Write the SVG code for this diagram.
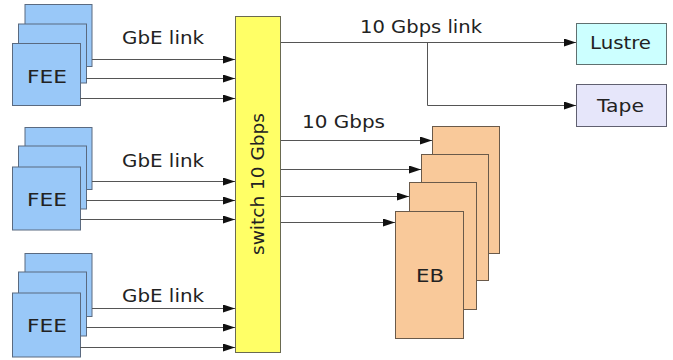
<svg xmlns="http://www.w3.org/2000/svg" width="673" height="360" viewBox="0 0 673 360">
  <style>
    text { font-family: "DejaVu Sans", "Liberation Sans", sans-serif; font-size: 18px; fill: #222; }
    .fee { fill: #99c8f8; stroke: #5a6a80; stroke-width: 1; }
    .eb { fill: #f9c99a; stroke: #6a5a4a; stroke-width: 1; }
    .sw { fill: #ffff66; stroke: #6a6a50; stroke-width: 1; }
    .lustre { fill: #ccffff; stroke: #607070; stroke-width: 1; }
    .tape { fill: #e6e6fa; stroke: #606070; stroke-width: 1; }
    .link { fill: none; stroke: #555; stroke-width: 1; }
    .arr { marker-end: url(#head); }
  </style>
  <defs>
    <marker id="head" markerUnits="userSpaceOnUse" markerWidth="13" markerHeight="9" refX="12" refY="4" orient="auto">
      <path d="M0,0 L12,4 L0,8 Z" fill="#111"/>
    </marker>
  </defs>
  <rect width="673" height="360" fill="#fff"/>

  <!-- front-end electronics, three stacks -->
  <g id="fee1">
    <rect class="fee" x="25" y="4.5" width="67" height="62"/>
    <rect class="fee" x="18.5" y="24" width="68" height="59"/>
    <rect class="fee" x="12.5" y="43.5" width="68" height="62"/>
    <text x="27" y="83" textLength="40" lengthAdjust="spacingAndGlyphs">FEE</text>
  </g>
  <g id="fee2">
    <rect class="fee" x="25" y="127.5" width="67" height="62"/>
    <rect class="fee" x="18.5" y="146" width="68" height="63"/>
    <rect class="fee" x="12.5" y="167" width="68" height="63"/>
    <text x="27" y="206" textLength="40" lengthAdjust="spacingAndGlyphs">FEE</text>
  </g>
  <g id="fee3">
    <rect class="fee" x="25" y="253.5" width="67" height="63"/>
    <rect class="fee" x="18.5" y="272" width="68" height="64"/>
    <rect class="fee" x="12.5" y="293" width="68" height="64"/>
    <text x="27" y="332" textLength="40" lengthAdjust="spacingAndGlyphs">FEE</text>
  </g>

  <!-- central switch -->
  <g id="switch">
    <rect class="sw" x="235.5" y="16.5" width="45" height="336"/>
    <text transform="translate(264,255) rotate(-90)" textLength="142" lengthAdjust="spacingAndGlyphs">switch 10 Gbps</text>
  </g>

  <!-- storage -->
  <g id="lustre">
    <rect class="lustre" x="576.5" y="23.5" width="90" height="41"/>
    <text x="590" y="49" textLength="61" lengthAdjust="spacingAndGlyphs">Lustre</text>
  </g>
  <g id="tape">
    <rect class="tape" x="576.5" y="84.5" width="90" height="42"/>
    <text x="597" y="112" textLength="47" lengthAdjust="spacingAndGlyphs">Tape</text>
  </g>

  <!-- event builders -->
  <g id="eb">
    <rect class="eb" x="432.5" y="126.5" width="67" height="127"/>
    <rect class="eb" x="421.5" y="154.5" width="67" height="126"/>
    <rect class="eb" x="409.5" y="182.5" width="67" height="127"/>
    <rect class="eb" x="395.5" y="211.5" width="68" height="127"/>
    <text x="416" y="282" textLength="28" lengthAdjust="spacingAndGlyphs">EB</text>
  </g>

  <!-- connectors -->
  <g id="connectors">
    <line class="link arr" x1="92" y1="59.5" x2="235" y2="59.5"/>
    <line class="link arr" x1="86" y1="78.5" x2="235" y2="78.5"/>
    <line class="link arr" x1="80" y1="98.5" x2="235" y2="98.5"/>

    <line class="link arr" x1="92" y1="181.5" x2="235" y2="181.5"/>
    <line class="link arr" x1="86" y1="200.5" x2="235" y2="200.5"/>
    <line class="link arr" x1="80" y1="219.5" x2="235" y2="219.5"/>

    <line class="link arr" x1="92" y1="308.5" x2="235" y2="308.5"/>
    <line class="link arr" x1="86" y1="327.5" x2="235" y2="327.5"/>
    <line class="link arr" x1="80" y1="347.5" x2="235" y2="347.5"/>

    <line class="link arr" x1="281" y1="42.5" x2="576" y2="42.5"/>
    <polyline class="link arr" points="427.5,42.5 427.5,105.5 576,105.5"/>

    <line class="link arr" x1="281" y1="140.5" x2="432" y2="140.5"/>
    <line class="link arr" x1="281" y1="169.5" x2="421" y2="169.5"/>
    <line class="link arr" x1="281" y1="196.5" x2="409" y2="196.5"/>
    <line class="link arr" x1="281" y1="222.5" x2="395" y2="222.5"/>

    <text x="122" y="44" textLength="82" lengthAdjust="spacingAndGlyphs">GbE link</text>
    <text x="122" y="167" textLength="82" lengthAdjust="spacingAndGlyphs">GbE link</text>
    <text x="122" y="302" textLength="82" lengthAdjust="spacingAndGlyphs">GbE link</text>
    <text x="360" y="33" textLength="122" lengthAdjust="spacingAndGlyphs">10 Gbps link</text>
    <text x="302" y="128" textLength="83" lengthAdjust="spacingAndGlyphs">10 Gbps</text>
  </g>
</svg>
